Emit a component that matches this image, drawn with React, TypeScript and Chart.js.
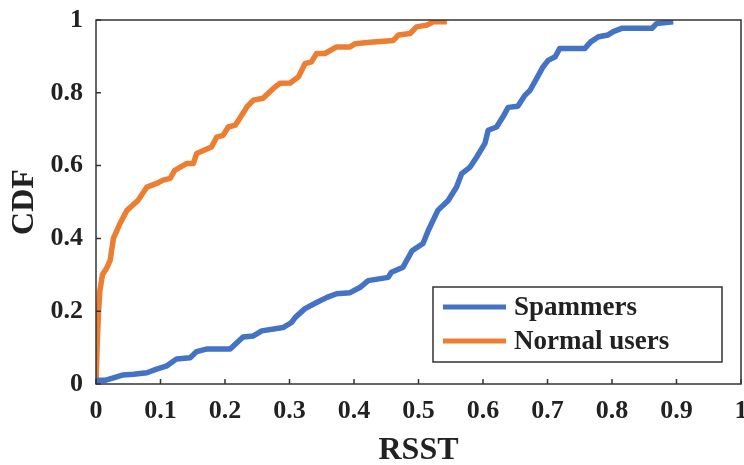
import { useEffect, useRef } from "react";
import { Chart, registerables } from "chart.js";

Chart.register(...registerables);

const seriesLabels = ["Spammers", "Normal users"];
const seriesColors = ["#4472C4", "#ED7D31"];

const spammerX = [0, 0.002, 0.014, 0.027, 0.042, 0.058, 0.079, 0.094, 0.11, 0.125, 0.146, 0.156, 0.171, 0.208, 0.228, 0.244, 0.257, 0.29, 0.303, 0.309, 0.324, 0.342, 0.358, 0.373, 0.394, 0.409, 0.422, 0.453, 0.458, 0.476, 0.49, 0.507, 0.515, 0.53, 0.546, 0.559, 0.567, 0.58, 0.59, 0.603, 0.608, 0.621, 0.631, 0.639, 0.654, 0.665, 0.673, 0.683, 0.693, 0.701, 0.712, 0.719, 0.758, 0.767, 0.779, 0.794, 0.802, 0.815, 0.862, 0.869, 0.895];
const spammerY = [0.008, 0.01, 0.01, 0.017, 0.025, 0.027, 0.031, 0.041, 0.05, 0.069, 0.072, 0.089, 0.096, 0.096, 0.129, 0.132, 0.146, 0.155, 0.169, 0.183, 0.207, 0.224, 0.238, 0.248, 0.251, 0.265, 0.284, 0.293, 0.307, 0.321, 0.366, 0.386, 0.421, 0.477, 0.504, 0.541, 0.578, 0.596, 0.623, 0.661, 0.697, 0.706, 0.734, 0.76, 0.763, 0.793, 0.807, 0.839, 0.871, 0.889, 0.899, 0.922, 0.922, 0.94, 0.954, 0.959, 0.968, 0.977, 0.977, 0.99, 0.995];

const normalX = [0, 0.002, 0.004, 0.006, 0.01, 0.017, 0.022, 0.027, 0.037, 0.048, 0.065, 0.079, 0.094, 0.104, 0.115, 0.122, 0.141, 0.151, 0.156, 0.179, 0.187, 0.197, 0.205, 0.216, 0.234, 0.244, 0.259, 0.275, 0.285, 0.301, 0.314, 0.324, 0.334, 0.342, 0.355, 0.373, 0.394, 0.402, 0.425, 0.461, 0.469, 0.487, 0.497, 0.513, 0.523, 0.544];
const normalY = [0, 0.12, 0.2, 0.256, 0.3, 0.32, 0.34, 0.4, 0.44, 0.477, 0.504, 0.541, 0.551, 0.56, 0.565, 0.587, 0.606, 0.606, 0.633, 0.651, 0.678, 0.683, 0.706, 0.711, 0.761, 0.78, 0.785, 0.812, 0.826, 0.827, 0.844, 0.88, 0.885, 0.908, 0.908, 0.926, 0.926, 0.935, 0.939, 0.944, 0.959, 0.963, 0.981, 0.986, 0.995, 0.995];

const xTicks = [0, 0.1, 0.2, 0.3, 0.4, 0.5, 0.6, 0.7, 0.8, 0.9, 1];
const yTicks = [0, 0.2, 0.4, 0.6, 0.8, 1];
const xTitle = "RSST";
const yTitle = "CDF";

const FONT = "'Liberation Serif', 'Times New Roman', serif";
const TEXT = "#222222";
const FRAME = "#333333";

const framePlugin = {
  id: "frameTicks",
  afterDatasetsDraw(chart: any) {
    const { ctx, chartArea } = chart;
    const xs = chart.scales.x;
    const ys = chart.scales.y;
    ctx.save();
    ctx.strokeStyle = FRAME;
    ctx.lineWidth = 1.5;
    ctx.strokeRect(chartArea.left, chartArea.top, chartArea.right - chartArea.left, chartArea.bottom - chartArea.top);
    ctx.beginPath();
    xTicks.forEach((v) => {
      const px = xs.getPixelForValue(v);
      ctx.moveTo(px, chartArea.bottom);
      ctx.lineTo(px, chartArea.bottom - 5);
    });
    yTicks.forEach((v) => {
      const py = ys.getPixelForValue(v);
      ctx.moveTo(chartArea.left, py);
      ctx.lineTo(chartArea.left + 5, py);
    });
    ctx.stroke();
    ctx.restore();
  },
};

const legendPlugin = {
  id: "insideLegend",
  afterDraw(chart: any) {
    const { ctx, chartArea } = chart;
    const boxRight = chartArea.right - 19;
    const boxBottom = chartArea.bottom - 22;
    const boxW = 289;
    const boxH = 75;
    const left = boxRight - boxW;
    const top = boxBottom - boxH;
    ctx.save();
    ctx.fillStyle = "#ffffff";
    ctx.fillRect(left, top, boxW, boxH);
    ctx.strokeStyle = FRAME;
    ctx.lineWidth = 1.5;
    ctx.strokeRect(left, top, boxW, boxH);
    ctx.font = `bold 27px ${FONT}`;
    ctx.textBaseline = "middle";
    ctx.textAlign = "left";
    chart.data.datasets.forEach((ds: any, i: number) => {
      const y = top + 20 + i * 34;
      ctx.strokeStyle = ds.borderColor;
      ctx.lineWidth = 5;
      ctx.beginPath();
      ctx.moveTo(left + 10, y);
      ctx.lineTo(left + 73, y);
      ctx.stroke();
      ctx.fillStyle = TEXT;
      ctx.fillText(ds.label, left + 81, y + 1);
    });
    ctx.restore();
  },
};

export default function App() {
  const ref = useRef<HTMLCanvasElement | null>(null);

  useEffect(() => {
    document.body.style.margin = "0";
    const canvas = ref.current;
    if (!canvas) return;
    const chart = new Chart(canvas, {
      type: "line",
      data: {
        datasets: [
          {
            label: seriesLabels[0],
            data: spammerX.map((x, i) => ({ x, y: spammerY[i] })),
            borderColor: seriesColors[0],
            backgroundColor: seriesColors[0],
            borderWidth: 5.5,
            pointRadius: 0,
            tension: 0,
            borderJoinStyle: "round",
          },
          {
            label: seriesLabels[1],
            data: normalX.map((x, i) => ({ x, y: normalY[i] })),
            borderColor: seriesColors[1],
            backgroundColor: seriesColors[1],
            borderWidth: 5.5,
            pointRadius: 0,
            tension: 0,
            borderJoinStyle: "round",
          },
        ],
      },
      options: {
        responsive: false,
        animation: false,
        devicePixelRatio: 1,
        layout: { padding: { top: 20, right: 3, left: 0, bottom: 0 } },
        plugins: {
          legend: { display: false },
          tooltip: { enabled: false },
        },
        scales: {
          x: {
            type: "linear",
            min: 0,
            max: 1,
            afterBuildTicks: (s: any) => {
              s.ticks = xTicks.map((v) => ({ value: v }));
            },
            afterFit: (s: any) => {
              s.height = 81;
              s.paddingLeft = 0;
              s.paddingRight = 0;
            },
            ticks: {
              autoSkip: false,
              maxRotation: 0,
              padding: 12,
              color: TEXT,
              font: { family: FONT, size: 26, weight: "bold" },
              callback: (v: any) => String(v),
            },
            grid: { display: false, drawTicks: false },
            border: { display: false },
            title: {
              display: true,
              text: xTitle,
              color: TEXT,
              font: { family: FONT, size: 32, weight: "bold" },
              padding: { top: 0, bottom: -5 },
            },
          },
          y: {
            type: "linear",
            min: 0,
            max: 1,
            afterBuildTicks: (s: any) => {
              s.ticks = yTicks.map((v) => ({ value: v }));
            },
            afterFit: (s: any) => {
              s.width = 96;
              s.paddingTop = 0;
              s.paddingBottom = 0;
            },
            ticks: {
              autoSkip: false,
              padding: 13,
              color: TEXT,
              font: { family: FONT, size: 26, weight: "bold" },
              callback: (v: any) => String(v),
            },
            grid: { display: false, drawTicks: false },
            border: { display: false },
            title: {
              display: true,
              text: yTitle,
              color: TEXT,
              font: { family: FONT, size: 32, weight: "bold" },
              padding: { top: 6, bottom: 0 },
            },
          },
        },
      },
      plugins: [framePlugin, legendPlugin],
    } as any);
    return () => chart.destroy();
  }, []);

  return (
    <div style={{ width: 744, height: 465 }}>
      <canvas ref={ref} width={744} height={465} style={{ display: "block" }} />
    </div>
  );
}
